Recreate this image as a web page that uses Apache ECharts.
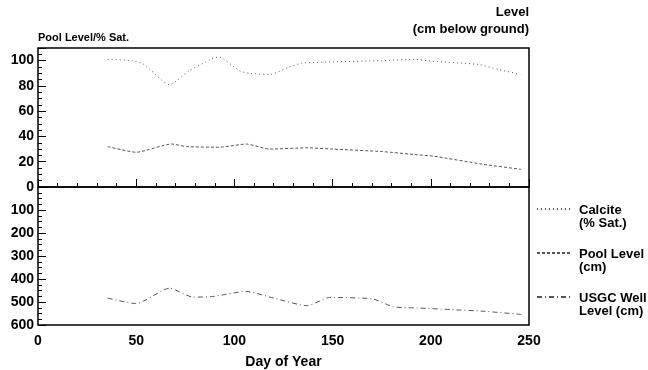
<!DOCTYPE html>
<html>
<head>
<meta charset="utf-8">
<script src="https://cdn.jsdelivr.net/npm/echarts@6/dist/echarts.min.js"></script>
<style>
  html, body { margin: 0; padding: 0; background: #fff; }
  #chart { width: 648px; height: 370px; }
</style>
</head>
<body>
<div id="chart"></div>
<script>
// day of year, value
const calcite = [
    [35.5, 101], [48, 100], [54, 97], [67, 81], [77, 92], [88, 101], [92, 103],
    [102.5, 92], [107.5, 90], [118, 89], [128, 95], [134.5, 98], [150, 99],
    [175, 100], [192, 101], [200.5, 99.5], [224, 97], [234.5, 93], [245.5, 89]
]
const poolLevel = [
    [35.5, 32], [50, 27.5], [68, 34], [75.5, 32], [92.5, 31.5], [106, 34],
    [118, 30], [137, 31], [150, 30], [175.5, 28], [193, 25.5], [201, 24.5],
    [226.5, 18], [246, 14]
]
const wellLevel = [
    [35.5, 483], [50, 507], [67, 440], [79, 479], [89, 476], [106, 454],
    [120, 483], [137, 516], [148.5, 480], [170.5, 487], [181, 521], [193, 526],
    [210, 533], [226.5, 540], [246, 554]
]
const seriesNames = ['Calcite\n(% Sat.)', 'Pool Level\n(cm)', 'USGC Well\nLevel (cm)']

const font = 'Liberation Sans, Arial, sans-serif'
const lineColor = '#555'

const chart = echarts.init(document.getElementById('chart'), null, { renderer: 'canvas' })

const options = {
    animation: false,
    backgroundColor: '#fff',
    textStyle: { fontFamily: font, color: '#000' },
    grid: [
        { left: 38, right: 119, top: 48, height: 139, show: true, borderColor: '#000', borderWidth: 1.5 },
        { left: 38, right: 119, top: 187, height: 141, show: true, borderColor: '#000', borderWidth: 1.5 }
    ],
    legend: {
        orient: 'vertical',
        left: 531,
        top: 199,
        itemWidth: 33,
        itemHeight: 10,
        itemGap: 18,
        data: seriesNames,
        itemStyle: { opacity: 0 },
        textStyle: {
            fontFamily: font,
            fontSize: 13,
            fontWeight: 'bold',
            color: '#000',
            rich: {
                a: { fontSize: 13, fontWeight: 'bold', fontFamily: font, color: '#000', padding: [16, 0, 0, 4] },
                b: { fontSize: 13, fontWeight: 'bold', fontFamily: font, color: '#000', padding: [0, 0, 0, 4] }
            }
        },
        formatter: name => {
            const parts = name.split('\n')
            return '{a|' + parts[0] + '}\n{b|' + parts[1] + '}'
        }
    },
    xAxis: [
        {
            gridIndex: 0, type: 'value', min: 0, max: 250, interval: 50,
            axisLine: { show: false },
            axisTick: { show: false },
            axisLabel: { show: false },
            splitLine: { show: false }
        },
        {
            gridIndex: 1, type: 'value', min: 0, max: 250, interval: 50,
            name: 'Day of Year',
            nameLocation: 'middle',
            nameGap: 30,
            nameTextStyle: { fontFamily: font, fontSize: 14, fontWeight: 'bold', color: '#000' },
            axisLine: { show: false },
            axisTick: { show: true, inside: true, length: 8, lineStyle: { color: '#000' } },
            minorTick: { show: true, splitNumber: 5, length: 4, lineStyle: { color: '#000' } },
            axisLabel: { fontFamily: font, fontSize: 14, fontWeight: 'bold', color: '#000', margin: 9 },
            splitLine: { show: false }
        }
    ],
    yAxis: [
        {
            gridIndex: 0, type: 'value', min: 0, max: 110, interval: 20,
            name: 'Pool Level/% Sat.',
            nameLocation: 'end',
            nameGap: 5,
            nameTextStyle: { fontFamily: font, fontSize: 11, fontWeight: 'bold', color: '#000', align: 'left' },
            axisLine: { show: false },
            axisTick: { show: true, inside: true, length: 8, lineStyle: { color: '#000' } },
            minorTick: { show: true, splitNumber: 4, length: 4, lineStyle: { color: '#000' } },
            axisLabel: { fontFamily: font, fontSize: 14, fontWeight: 'bold', color: '#000', margin: 4, showMaxLabel: false },
            splitLine: { show: false }
        },
        {
            gridIndex: 0, type: 'value', min: 0, max: 110, position: 'right',
            name: 'Level\n(cm below ground)',
            nameLocation: 'end',
            nameGap: 10,
            nameTextStyle: { fontFamily: font, fontSize: 13, fontWeight: 'bold', color: '#000', align: 'right', lineHeight: 17 },
            axisLine: { show: false },
            axisTick: { show: false },
            axisLabel: { show: false },
            splitLine: { show: false }
        },
        {
            gridIndex: 1, type: 'value', min: 0, max: 600, interval: 100, inverse: true,
            axisLine: { show: false },
            axisTick: { show: true, inside: true, length: 8, lineStyle: { color: '#000' } },
            minorTick: { show: true, splitNumber: 4, length: 4, lineStyle: { color: '#000' } },
            axisLabel: { fontFamily: font, fontSize: 14, fontWeight: 'bold', color: '#000', margin: 4, showMinLabel: false },
            splitLine: { show: false }
        }
    ],
    series: [
        {
            name: seriesNames[0], type: 'line', xAxisIndex: 0, yAxisIndex: 0,
            data: calcite, symbol: 'none', smooth: 0.2,
            lineStyle: { color: lineColor, width: 1, type: [1, 3] },
            itemStyle: { color: lineColor }
        },
        {
            name: seriesNames[1], type: 'line', xAxisIndex: 0, yAxisIndex: 0,
            data: poolLevel, symbol: 'none', smooth: 0.2,
            lineStyle: { color: lineColor, width: 1, type: [3, 2] },
            itemStyle: { color: lineColor }
        },
        {
            name: seriesNames[2], type: 'line', xAxisIndex: 1, yAxisIndex: 2,
            data: wellLevel, symbol: 'none', smooth: 0.2,
            lineStyle: { color: lineColor, width: 1, type: [5, 3, 1, 3] },
            itemStyle: { color: lineColor }
        }
    ]
}

chart.setOption(options)
</script>
</body>
</html>
